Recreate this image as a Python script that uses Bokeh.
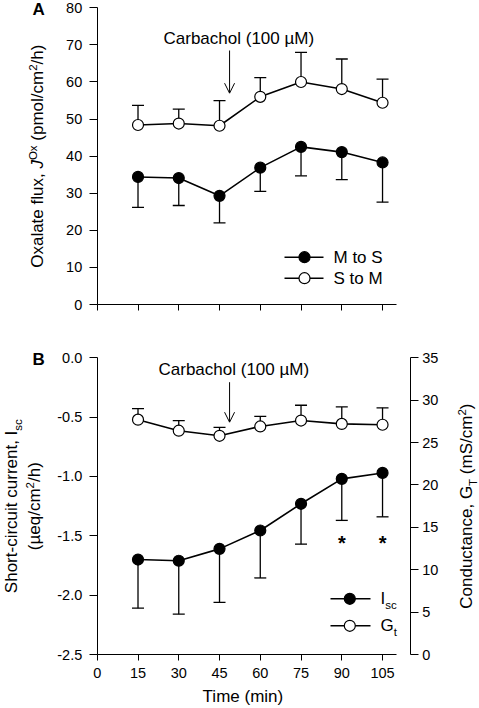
from math import pi, cos, sin

from bokeh.plotting import figure
from bokeh.models import (Range1d, LinearAxis, FixedTicker, Whisker, TeeHead,
                          ColumnDataSource, Label, Arrow, OpenHead,
                          CustomJSTickFormatter)
from bokeh.layouts import column
from bokeh.embed import file_html
from bokeh.resources import INLINE

# ---------------- data ----------------
time_min = [15, 30, 45, 60, 75, 90, 105]

m_to_s = [34.4, 34.1, 29.3, 36.9, 42.5, 41.1, 38.3]
m_to_s_err = [8.2, 7.4, 7.3, 6.4, 7.8, 7.4, 10.7]
s_to_m = [48.4, 48.8, 48.2, 56.0, 60.0, 58.1, 54.4]
s_to_m_err = [5.3, 3.9, 6.8, 5.2, 8.0, 8.1, 6.4]

isc = [-1.70, -1.71, -1.61, -1.455, -1.23, -1.02, -0.97]
isc_err = [0.41, 0.45, 0.45, 0.40, 0.34, 0.35, 0.37]
gt = [27.7, 26.4, 25.8, 26.9, 27.6, 27.2, 27.1]
gt_err = [1.3, 1.2, 1.0, 1.2, 1.8, 2.0, 2.0]

sig_times = [90, 105]
sig_level = -1.55

x_ticks = [0, 15, 30, 45, 60, 75, 90, 105]
a_ticks = [0, 10, 20, 30, 40, 50, 60, 70, 80]
b_ticks = [-2.5, -2.0, -1.5, -1.0, -0.5, 0.0]
g_ticks = [0, 5, 10, 15, 20, 25, 30, 35]

carbachol_time = 48.7
carbachol_text = "Carbachol (100 \u00b5M)"

FONT = "Liberation Sans"
TXT = 17
SMALL = 11.5
TICK = "14.5px"
BASE_FIX = 0.36   # renderer places glyphs this many em below the anchor

# ---------------- geometry (pixels of the page) ----------------
W_PAGE = 479
H_A, H_B = 335, 373
X0_PX, KX = 96.75, 2.717           # x = 0 min at px, px per minute
A_TOP_PX, A_BOT_PX = 7.33, 304.0   # 80 and 0 in panel A
B_TOP_PX, B_BOT_PX = 357.3, 654.0  # 0.0 and -2.5 in panel B (page px)
KA = (A_BOT_PX - A_TOP_PX) / 80.0
KB = (B_BOT_PX - B_TOP_PX) / 2.5
KG = (B_BOT_PX - B_TOP_PX) / 35.0


def x_of(px):
    return (px - X0_PX) / KX


def ya_of(py):
    return 80 - (py - A_TOP_PX) / KA


def yb_of(py):
    return -(py - B_TOP_PX) / KB


X_RANGE = (x_of(0), x_of(W_PAGE))
A_RANGE = (ya_of(H_A), ya_of(0))
B_RANGE = (yb_of(H_A + H_B), yb_of(H_A))
G_RANGE = (-(H_A + H_B - B_BOT_PX) / KG, 35 + (B_TOP_PX - H_A) / KG)
RIGHT_AXIS_X = x_of(409.7)

# Arial / Liberation Sans advance widths (per 1000 em)
W = {' ': 278, ',': 278, '.': 278, '/': 278, '(': 333, ')': 333, '-': 333,
     '\u00b5': 576, '*': 389}
W.update({c: 556 for c in "0123456789"})
W.update(dict(zip("abcdefghijklmnopqrstuvwxyz",
                  [556, 556, 500, 556, 556, 278, 556, 556, 222, 222, 500, 222, 833,
                   556, 556, 556, 556, 333, 500, 278, 556, 500, 722, 500, 500, 500])))
W.update(dict(zip("ABCDEFGHIJKLMNOPQRSTUVWXYZ",
                  [667, 667, 722, 722, 667, 611, 778, 722, 278, 500, 667, 556, 833,
                   722, 778, 667, 778, 722, 667, 611, 722, 667, 944, 667, 667, 611])))


def tw(s, size):
    return sum(W.get(c, 556) for c in s) * size / 1000.0


def rich(p, pieces, x, y, dx=0.0, dy=0.0, angle=0.0, center=True, **kw):
    total = sum(tw(t, sz) for t, sz, _, _ in pieces)
    s = -total / 2 if center else 0.0
    ca, sa = cos(angle), sin(angle)
    for t, sz, rise, style in pieces:
        lead = len(t) - len(t.lstrip(' '))
        body = t.strip(' ')
        trail = len(t) - lead - len(body)
        s += tw(' ' * lead, sz)
        r = rise + BASE_FIX * sz
        ox = dx + s * ca - r * sa
        oy = dy + s * sa + r * ca
        p.add_layout(Label(x=x, y=y, x_offset=ox, y_offset=oy, text=body,
                           angle=angle, text_align='left',
                           text_baseline='alphabetic', text_font=FONT,
                           text_font_size=f"{sz}px", text_font_style=style,
                           text_color='black', **kw))
        s += tw(body, sz) + tw(' ' * trail, sz)


def style_axis(ax, ticks, bounds, loc, out=8, standoff=7):
    ax.ticker = FixedTicker(ticks=ticks)
    ax.bounds = bounds
    ax.fixed_location = loc
    ax.axis_line_color = 'black'
    ax.axis_line_width = 1
    ax.major_tick_line_color = 'black'
    ax.major_tick_line_width = 1
    ax.major_tick_out = out
    ax.major_tick_in = 0
    ax.minor_tick_line_color = None
    ax.major_label_text_font = FONT
    ax.major_label_text_font_size = TICK
    ax.major_label_text_color = 'black'
    ax.major_label_standoff = standoff
    ax.axis_label = None


def base_fig(h, yr):
    p = figure(width=W_PAGE, height=h, x_range=Range1d(*X_RANGE),
               y_range=Range1d(*yr), output_backend="svg", toolbar_location=None,
               min_border=0, min_border_left=0, min_border_right=0,
               min_border_top=0, min_border_bottom=0)
    p.outline_line_color = None
    p.xgrid.grid_line_color = None
    p.ygrid.grid_line_color = None
    p.background_fill_color = 'white'
    p.border_fill_color = 'white'
    return p


def series(p, y, err, up, fill, y_range_name="default"):
    lo = y if up else [a - e for a, e in zip(y, err)]
    hi = [a + e for a, e in zip(y, err)] if up else y
    src = ColumnDataSource(dict(x=time_min, y=y, lo=lo, hi=hi))
    tee = TeeHead(size=12, line_width=1.3, line_color='black')
    wk = Whisker(source=src, base='x', lower='lo', upper='hi',
                 lower_head=None if up else tee, upper_head=tee if up else None,
                 line_width=1.3, line_color='black', y_range_name=y_range_name)
    p.add_layout(wk)
    p.line('x', 'y', source=src, line_color='black', line_width=1.6,
           y_range_name=y_range_name)
    p.scatter('x', 'y', source=src, size=11, fill_color=fill, line_color='black',
              line_width=1.2, y_range_name=y_range_name)


# ---------------- Panel A ----------------
pa = base_fig(H_A, A_RANGE)
style_axis(pa.yaxis[0], a_ticks, (0, 80), 0, out=8, standoff=7)
style_axis(pa.xaxis[0], x_ticks, (0, 110), 0, out=6)
pa.xaxis[0].formatter = CustomJSTickFormatter(code="return ''")

series(pa, m_to_s, m_to_s_err, False, 'black')
series(pa, s_to_m, s_to_m_err, True, 'white')

# legend A
leg_a_x = [x_of(284), x_of(323)]
leg_a_mark = x_of(304)
leg_a_y = [ya_of(256.7), ya_of(277.7)]
leg_a_text_x = x_of(333)
for yy, fill, lab in zip(leg_a_y, ['black', 'white'], ["M to S", "S to M"]):
    pa.line(leg_a_x, [yy, yy], line_color='black', line_width=1.6)
    pa.scatter([leg_a_mark], [yy], size=11, fill_color=fill, line_color='black',
               line_width=1.2)
    rich(pa, [(lab, TXT, 0, 'normal')], leg_a_text_x, yy, dy=-6, center=False)

# carbachol annotation A
rich(pa, [(carbachol_text, TXT, 0, 'normal')], x_of(238.3), ya_of(44))
pa.add_layout(Arrow(end=OpenHead(size=10, line_width=1, line_color='black'),
                    x_start=carbachol_time, y_start=ya_of(50),
                    x_end=carbachol_time, y_end=ya_of(92.7),
                    line_width=1, line_color='black'))

# panel letter A
rich(pa, [("A", 17, 0, 'bold')], x_of(32), ya_of(15), center=False)

# y label A
rich(pa, [("Oxalate flux, ", TXT, 0, 'normal'), ("J", TXT, 0, 'italic'),
          ("Ox", SMALL, 6.5, 'normal'), (" (pmol/cm", TXT, 0, 'normal'),
          ("2", SMALL, 6.5, 'normal'), ("/h)", TXT, 0, 'normal')],
     x_of(42.7), 40, angle=pi / 2)

# ---------------- Panel B ----------------
pb = base_fig(H_B, B_RANGE)
pb.extra_y_ranges = {"g": Range1d(*G_RANGE)}
style_axis(pb.yaxis[0], b_ticks, (-2.5, 0.0), 0, out=8, standoff=7)
style_axis(pb.xaxis[0], x_ticks, (0, 110), -2.5, out=6, standoff=7)
pb.yaxis[0].formatter = CustomJSTickFormatter(code="return tick.toFixed(1)")
rax = LinearAxis(y_range_name="g")
style_axis(rax, g_ticks, (0, 35), RIGHT_AXIS_X, out=8, standoff=4)
pb.add_layout(rax, "right")

series(pb, gt, gt_err, True, 'white', y_range_name="g")
series(pb, isc, isc_err, False, 'black')

# significance stars
for t in sig_times:
    pb.add_layout(Label(x=t, y=sig_level, text="*", text_align='center',
                        text_baseline='middle', text_font=FONT,
                        text_font_size='20px', text_font_style='bold',
                        y_offset=-1, text_color='black'))

# legend B
leg_b_x = [x_of(330), x_of(370)]
leg_b_mark = x_of(349.3)
leg_b_y = [yb_of(598.3), yb_of(625.3)]
leg_b_text_x = x_of(380)
for yy, fill, main, sub in zip(leg_b_y, ['black', 'white'], ["I", "G"], ["sc", "t"]):
    pb.line(leg_b_x, [yy, yy], line_color='black', line_width=1.6)
    pb.scatter([leg_b_mark], [yy], size=11, fill_color=fill, line_color='black',
               line_width=1.2)
    rich(pb, [(main, TXT, 0, 'normal'), (sub, SMALL, -4, 'normal')],
         leg_b_text_x, yy, dy=-6, center=False)

# carbachol annotation B
rich(pb, [(carbachol_text, TXT, 0, 'normal')], x_of(233.3), yb_of(375))
pb.add_layout(Arrow(end=OpenHead(size=10, line_width=1, line_color='black'),
                    x_start=carbachol_time, y_start=yb_of(381.7),
                    x_end=carbachol_time, y_end=yb_of(421.7),
                    line_width=1, line_color='black'))

# panel letter B
rich(pb, [("B", 17, 0, 'bold')], x_of(32), yb_of(365), center=False)

# x label
rich(pb, [("Time (min)", TXT, 0, 'normal')], x_of(242.7), yb_of(702))

# left y label (two lines)
B_MID = -1.25
rich(pb, [("Short-circuit current, I", TXT, 0, 'normal'), ("sc", SMALL, -4, 'normal')],
     x_of(17.3), B_MID, angle=pi / 2)
rich(pb, [("(\u00b5eq/cm", TXT, 0, 'normal'), ("2", SMALL, 6.5, 'normal'),
          ("/h)", TXT, 0, 'normal')],
     x_of(40), B_MID, angle=pi / 2)

# right y label
rich(pb, [("Conductance, G", TXT, 0, 'normal'), ("T", SMALL, -4, 'normal'),
          (" (mS/cm", TXT, 0, 'normal'), ("2", SMALL, 6.5, 'normal'),
          (")", TXT, 0, 'normal')],
     x_of(472.5), B_MID, angle=pi / 2)

layout = column(pa, pb)
open("out.html", "w").write(file_html(layout, INLINE))
